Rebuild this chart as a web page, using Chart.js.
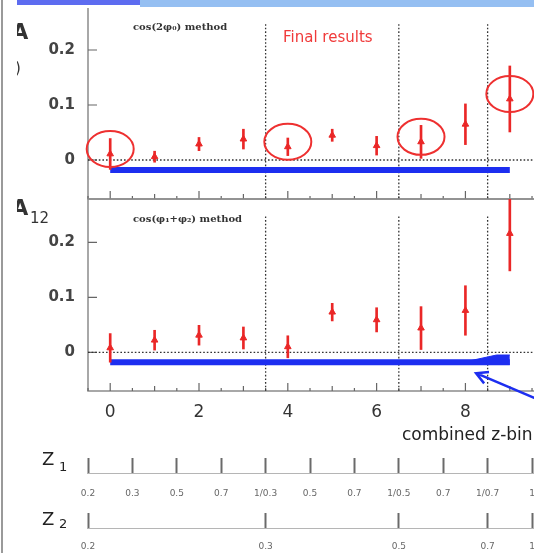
<!DOCTYPE html>
<html>
<head>
<meta charset="utf-8">
<script src="https://cdn.jsdelivr.net/npm/chart.js@4.4.1/dist/chart.umd.min.js"></script>
<style>
  body { margin:0; background:#fff; width:534px; height:553px; overflow:hidden; position:relative; font-family:"DejaVu Sans", sans-serif; }
  #edge { position:absolute; left:1px; top:0; width:2px; height:553px; background:#9a9a9a; }
  #slide { position:absolute; left:17px; top:0; width:517px; height:553px; overflow:hidden; }
  #slide canvas { position:absolute; left:-17px; }
  .txt { position:absolute; white-space:nowrap; line-height:1; color:#333; }
  .method { font:bold 10px "DejaVu Serif", serif; color:#333; }
</style>
</head>
<body>
<div id="edge"></div>
<div id="slide">
  <div style="position:absolute;left:0;top:0;width:123px;height:5px;background:#5d6cf0"></div>
  <div style="position:absolute;left:123px;top:0;width:400px;height:7px;background:#95bff2"></div>

  <canvas id="chartA0" width="560" height="200" style="top:0"></canvas>
  <canvas id="chartA12" width="560" height="253" style="top:190px"></canvas>
  <canvas id="chartZ" width="560" height="113" style="top:440px"></canvas>

  <span class="txt" style="left:-5px;top:19.5px;font:bold 21px 'DejaVu Sans'">A</span>
  <span class="txt" style="left:-2px;top:59px;font:15px 'DejaVu Sans'">)</span>
  <span class="txt" style="left:-5px;top:195.5px;font:bold 21px 'DejaVu Sans'">A</span>
  <span class="txt" style="left:13px;top:209px;font:15px 'DejaVu Sans'">12</span>

  <span class="txt method" style="left:116px;top:20.5px">cos(2φ₀) method</span>
  <span class="txt method" style="left:116px;top:212.5px">cos(φ₁+φ₂) method</span>
  <span class="txt" style="left:266px;top:28.3px;font:15px 'DejaVu Sans';color:#f03a3a">Final results</span>

  <span class="txt" style="left:385px;top:423.5px;font:17px 'DejaVu Sans';color:#222">combined z-bin</span>

  <span class="txt" style="left:25px;top:448px;font:18px 'DejaVu Sans';color:#222">Z</span>
  <span class="txt" style="left:42px;top:459px;font:13px 'DejaVu Sans';color:#222">1</span>
  <span class="txt" style="left:25px;top:508px;font:18px 'DejaVu Sans';color:#222">Z</span>
  <span class="txt" style="left:42px;top:516px;font:13px 'DejaVu Sans';color:#222">2</span>
</div>

<script>
// combined z-bin index
const xBins = [0, 1, 2, 3, 4, 5, 6, 7, 8, 9];

// cos(2phi0) method
const a0Values = [0.011, 0.006, 0.029, 0.038, 0.024, 0.045, 0.026, 0.033, 0.065, 0.111];
const a0Errors = [0.028, 0.010, 0.012, 0.018, 0.016, 0.011, 0.017, 0.030, 0.037, 0.060];

// cos(phi1+phi2) method
const a12Values = [0.008, 0.022, 0.031, 0.026, 0.010, 0.073, 0.059, 0.044, 0.076, 0.216];
const a12Errors = [0.026, 0.018, 0.018, 0.020, 0.020, 0.016, 0.022, 0.039, 0.045, 0.068];

// blue offset band below zero
const bandRange = [0, 9];
const a0Band = -0.018;
const a12Band = -0.018;
const a12TailX = [7.9, 8.7, 9];
const a12TailY = [-0.019, -0.005, -0.005];
const a12TailBase = -0.023;

// circled bins in the upper panel
const circledBins = [0, 4, 7, 9];

// y ticks / x ticks
const yTickValues = [0, 0.1, 0.2];
const xTickValues = [0, 2, 4, 6, 8];
const groupDividers = [3.5, 6.5, 8.5];

// z1 / z2 bin edges
const z1TickPos = [-0.5, 0.5, 1.5, 2.5, 3.5, 4.5, 5.5, 6.5, 7.5, 8.5, 9.5];
const z1TickLabels = ['0.2', '0.3', '0.5', '0.7', '1/0.3', '0.5', '0.7', '1/0.5', '0.7', '1/0.7', '1'];
const z2TickPos = [-0.5, 3.5, 6.5, 8.5, 9.5];
const z2TickLabels = ['0.2', '0.3', '0.5', '0.7', '1'];

// arrow pointing at the end of the lower band (from, to)
const arrowFrom = [10.13, -0.103];
const arrowTo = [8.24, -0.038];

const red = '#ea2727';
const blue = '#1d2ef0';
const X_MIN = -0.5, X_MAX = 10.13;

Chart.defaults.font.family = '"DejaVu Sans", sans-serif';

function decor(cfg) {
  return {
    id: 'decor',
    beforeDatasetsDraw(chart) {
      const { ctx, chartArea: a, scales: { x, y } } = chart;
      ctx.save();
      ctx.lineWidth = 1.5;
      ctx.strokeStyle = '#8c8c8c';
      ctx.beginPath();
      if (cfg.top) { ctx.moveTo(a.right, a.top); ctx.lineTo(a.left, a.top); } else ctx.moveTo(a.left, a.top);
      ctx.lineTo(a.left, a.bottom);
      ctx.lineTo(a.right, a.bottom);
      ctx.stroke();

      // inward ticks
      ctx.lineWidth = 1.2;
      ctx.strokeStyle = '#666';
      ctx.beginPath();
      for (let v = X_MIN; v <= x.max; v += 0.5) {
        const px = x.getPixelForValue(v);
        const len = v % 2 === 0 ? 8 : Number.isInteger(v) ? 5 : 3;
        ctx.moveTo(px, a.bottom);
        ctx.lineTo(px, a.bottom - len);
      }
      yTickValues.forEach(v => {
        const py = y.getPixelForValue(v);
        ctx.moveTo(a.left, py);
        ctx.lineTo(a.left + 9, py);
      });
      ctx.stroke();

      // dotted zero line and group dividers
      ctx.setLineDash([1.6, 2]);
      ctx.strokeStyle = '#333';
      ctx.lineWidth = 1.3;
      ctx.beginPath();
      const y0 = y.getPixelForValue(0);
      ctx.moveTo(a.left, y0);
      ctx.lineTo(a.right, y0);
      groupDividers.forEach(d => {
        const px = x.getPixelForValue(d);
        ctx.moveTo(px, y.getPixelForValue(0.247));
        ctx.lineTo(px, a.bottom);
      });
      ctx.stroke();
      ctx.restore();
    },
    afterDatasetsDraw(chart) {
      const { ctx, scales: { x, y } } = chart;
      ctx.save();
      if (cfg.circled) {
        const pts = chart.getDatasetMeta(0).data;
        ctx.strokeStyle = '#ee3030';
        ctx.lineWidth = 2;
        cfg.circled.forEach(i => {
          ctx.beginPath();
          ctx.ellipse(pts[i].x, pts[i].y - 5, 23.5, 18, 0, 0, Math.PI * 2);
          ctx.stroke();
        });
      }
      if (cfg.arrow) {
        const x1 = x.getPixelForValue(cfg.arrow[0][0]), y1 = y.getPixelForValue(cfg.arrow[0][1]);
        const x2 = x.getPixelForValue(cfg.arrow[1][0]), y2 = y.getPixelForValue(cfg.arrow[1][1]);
        const ang = Math.atan2(y1 - y2, x1 - x2);
        ctx.strokeStyle = blue;
        ctx.lineWidth = 2.5;
        ctx.beginPath();
        ctx.moveTo(x1, y1);
        ctx.lineTo(x2, y2);
        ctx.moveTo(x2 + 13 * Math.cos(ang - 0.5), y2 + 13 * Math.sin(ang - 0.5));
        ctx.lineTo(x2, y2);
        ctx.lineTo(x2 + 13 * Math.cos(ang + 0.5), y2 + 13 * Math.sin(ang + 0.5));
        ctx.stroke();
      }
      ctx.restore();
    }
  };
}

function panel(id, values, errors, band, opt) {
  const datasets = [
    {
      type: 'scatter',
      data: xBins.map((x, i) => ({ x, y: values[i] })),
      pointStyle: 'triangle', pointRadius: 3.8,
      backgroundColor: red, borderColor: red, borderWidth: 1
    },
    {
      type: 'bar',
      data: xBins.map((x, i) => ({ x, y: [values[i] - errors[i], values[i] + errors[i]] })),
      backgroundColor: red, barThickness: 2
    },
    {
      type: 'line',
      data: bandRange.map(x => ({ x, y: band })),
      borderColor: blue, borderWidth: 6, pointRadius: 0, borderCapStyle: 'butt'
    }
  ].concat(opt.extra || []);

  return new Chart(document.getElementById(id), {
    type: 'scatter',
    data: { datasets },
    options: {
      responsive: false, animation: false, devicePixelRatio: 1,
      layout: { padding: opt.padding, autoPadding: false },
      plugins: { legend: { display: false }, tooltip: { enabled: false } },
      scales: {
        x: {
          type: 'linear', min: X_MIN, max: X_MAX, offset: false,
          display: opt.showX,
          afterBuildTicks: s => { s.ticks = xTickValues.map(v => ({ value: v })); },
          afterFit: s => { s.height = opt.showX ? 52 : 0; s.paddingLeft = 0; s.paddingRight = 0; },
          grid: { display: false, drawTicks: false, offset: false },
          border: { display: false },
          ticks: { padding: 11, color: '#333', font: { size: 17 }, maxRotation: 0, autoSkip: false }
        },
        y: {
          type: 'linear', min: opt.yRange[0], max: opt.yRange[1],
          afterBuildTicks: s => { s.ticks = yTickValues.map(v => ({ value: v })); },
          // fixed axis width, no extra room reserved above/below the labels
          afterFit: s => { s.width = 88; s.paddingTop = 0; s.paddingBottom = 0; },
          grid: { display: false, drawTicks: false },
          border: { display: false },
          ticks: {
            padding: 13, color: '#444', font: { size: 15, weight: 'bold' },
            callback: v => v === 0 ? '0' : v.toFixed(1)
          }
        }
      }
    },
    plugins: [decor(opt.decor)]
  });
}

panel('chartA0', a0Values, a0Errors, a0Band, {
  padding: { top: 8, bottom: 1, left: 0, right: 0 },
  showX: false,
  yRange: [-0.0709, 0.2764],
  decor: { top: false, circled: circledBins }
});

panel('chartA12', a12Values, a12Errors, a12Band, {
  padding: { top: 9, bottom: 0, left: 0, right: 0 },
  showX: true,
  yRange: [-0.0704, 0.2787],
  decor: { top: true, arrow: [arrowFrom, arrowTo] },
  extra: [{
    type: 'line',
    data: a12TailX.map((x, i) => ({ x, y: a12TailY[i] })),
    borderColor: blue, backgroundColor: blue, borderWidth: 1, pointRadius: 0,
    fill: { value: a12TailBase }
  }]
});

function zAxis(pos, labels, weight, height, pad) {
  return {
    type: 'linear', position: 'bottom', axis: 'x', weight,
    min: X_MIN, max: X_MAX,
    afterBuildTicks: s => { s.ticks = pos.map(v => ({ value: v })); },
    afterFit: s => { s.height = height; s.paddingLeft = 0; s.paddingRight = 0; },
    grid: { display: true, drawOnChartArea: false, drawTicks: true, tickLength: -15, tickWidth: 2, tickColor: '#6a6a6a' },
    border: { display: true, color: '#b5b5b5', width: 1 },
    ticks: { autoSkip: false, maxRotation: 0, padding: pad, color: '#666', font: { size: 9 }, callback: (v, i) => labels[i] }
  };
}

new Chart(document.getElementById('chartZ'), {
  type: 'scatter',
  data: { datasets: [] },
  options: {
    responsive: false, animation: false, devicePixelRatio: 1,
    layout: { padding: { left: 88, top: 0, right: 0, bottom: 0 }, autoPadding: false },
    plugins: { legend: { display: false }, tooltip: { enabled: false } },
    scales: {
      y: { display: false, min: 0, max: 1 },
      z1: zAxis(z1TickPos, z1TickLabels, 0, 55, 30),
      z2: zAxis(z2TickPos, z2TickLabels, 1, 25, 28)
    }
  }
});
</script>
</body>
</html>
